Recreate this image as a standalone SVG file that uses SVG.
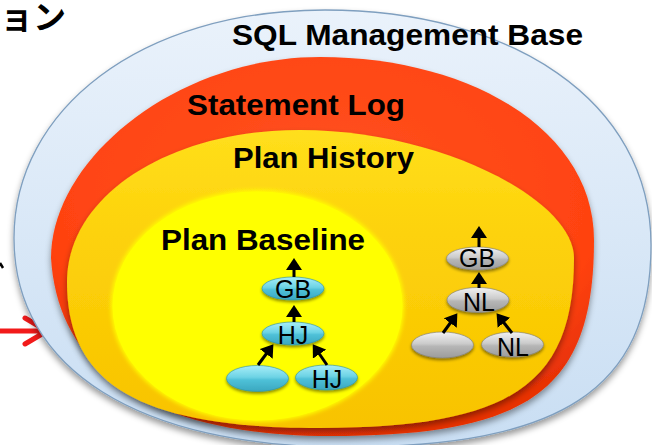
<svg xmlns="http://www.w3.org/2000/svg" width="652" height="445" viewBox="0 0 652 445">
  <defs>
    <style>
      .title { font-family: "Liberation Sans", Arial, sans-serif; font-weight: bold; font-size: 30px; fill: #000; }
      .label { font-family: "Liberation Sans", Arial, sans-serif; font-size: 25px; fill: #000; text-anchor: middle; }
      .jp { font-family: "Noto Sans CJK JP", "Liberation Sans", sans-serif; font-size: 33px; font-weight: bold; fill: #000; }
      .edge { stroke: #000; stroke-width: 3; fill: none; marker-end: url(#head); }
      .cyan { fill: url(#cyanFill); stroke: #2b8ea6; stroke-width: 0.6; filter: url(#nodeShadow); }
      .gray { fill: url(#grayFill); stroke: #7c7c7c; stroke-width: 0.6; filter: url(#nodeShadow); }
    </style>
    <marker id="head" viewBox="0 0 12 16" refX="8" refY="8" markerWidth="12" markerHeight="16" markerUnits="userSpaceOnUse" orient="auto">
      <path d="M0,0 L12,8 L0,16 Z" fill="#000"/>
    </marker>
    <linearGradient id="blueFill" x1="0" y1="0" x2="0" y2="1">
      <stop offset="0" stop-color="#eaf2fb"/>
      <stop offset="1" stop-color="#c9def3"/>
    </linearGradient>
    <radialGradient id="redFill" cx="0.5" cy="0.35" r="0.65">
      <stop offset="0" stop-color="#ff5220"/>
      <stop offset="0.8" stop-color="#ff4210"/>
      <stop offset="1" stop-color="#e83206"/>
    </radialGradient>
    <linearGradient id="orangeFill" x1="0" y1="0" x2="0" y2="1">
      <stop offset="0" stop-color="#ffdf1c"/>
      <stop offset="0.35" stop-color="#fdd20a"/>
      <stop offset="1" stop-color="#f8c300"/>
    </linearGradient>
    <linearGradient id="cyanFill" x1="0" y1="0" x2="0" y2="1">
      <stop offset="0" stop-color="#a8eef8"/>
      <stop offset="0.45" stop-color="#6dd3e5"/>
      <stop offset="0.55" stop-color="#4fc1d8"/>
      <stop offset="1" stop-color="#3aa7bf"/>
    </linearGradient>
    <linearGradient id="grayFill" x1="0" y1="0" x2="0" y2="1">
      <stop offset="0" stop-color="#f2f2f2"/>
      <stop offset="0.45" stop-color="#cbcbcb"/>
      <stop offset="0.55" stop-color="#b6b6b6"/>
      <stop offset="1" stop-color="#9c9c9c"/>
    </linearGradient>
    <filter id="shadow" x="-10%" y="-10%" width="120%" height="125%">
      <feGaussianBlur in="SourceAlpha" stdDeviation="3"/>
      <feOffset dx="0" dy="4" result="b"/>
      <feFlood flood-color="#000" flood-opacity="0.4"/>
      <feComposite in2="b" operator="in" result="s"/>
      <feMerge><feMergeNode in="s"/><feMergeNode in="SourceGraphic"/></feMerge>
    </filter>
    <filter id="soft" x="-5%" y="-5%" width="110%" height="110%">
      <feGaussianBlur stdDeviation="2"/>
    </filter>
    <filter id="nodeShadow" x="-20%" y="-30%" width="140%" height="180%">
      <feGaussianBlur in="SourceAlpha" stdDeviation="1.5"/>
      <feOffset dx="0" dy="2" result="b"/>
      <feFlood flood-color="#000" flood-opacity="0.45"/>
      <feComposite in2="b" operator="in" result="s"/>
      <feMerge><feMergeNode in="s"/><feMergeNode in="SourceGraphic"/></feMerge>
    </filter>
  </defs>

  <rect width="652" height="445" fill="#fff"/>

  <!-- caption fragments at the left edge -->
  <text class="jp" x="0" y="29">ョン</text>
  <line x1="0" y1="263" x2="3" y2="268" stroke="#000" stroke-width="2.5"/>
  <path d="M0,331 L45,331 M25,318 L47,331 L25,344" fill="none" stroke="#f21a1a" stroke-width="5" stroke-linecap="round" stroke-linejoin="round"/>

  <g id="sql-management-base">
    <path d="M14,238 C14,110 140,10 325,10 C510,10 651,100 651,245 C651,390 560,447 345,447 C140,447 14,370 14,238 Z" fill="url(#blueFill)" stroke="#7f9fbf" stroke-width="1.3" filter="url(#shadow)"/>
    <text class="title" x="232" y="45" textLength="351" lengthAdjust="spacingAndGlyphs">SQL Management Base</text>
  </g>

  <g id="statement-log">
    <path d="M51,258 C51,160 175,57 320,57 C470,57 594,130 594,240 C594,390 530,436 330,436 C150,436 58,370 51,258 Z" fill="url(#redFill)" filter="url(#shadow)"/>
    <text class="title" x="187" y="115" textLength="218" lengthAdjust="spacingAndGlyphs">Statement Log</text>
  </g>

  <g id="plan-history">
    <path d="M67,282 C67,195 170,130 300,130 C440,130 574,200 574,258 C574,385 510,428 320,428 C140,428 67,385 67,282 Z" fill="url(#orangeFill)" filter="url(#shadow)"/>
    <text class="title" x="233" y="168" textLength="181" lengthAdjust="spacingAndGlyphs">Plan History</text>
  </g>

  <g id="plan-baseline">
    <ellipse cx="257.5" cy="306" rx="146.5" ry="116" fill="#ffff00" filter="url(#soft)"/>
    <ellipse cx="257.5" cy="306" rx="145" ry="114.5" fill="#ffff00"/>
    <text class="title" x="161" y="250" textLength="204" lengthAdjust="spacingAndGlyphs">Plan Baseline</text>
  </g>

  <!-- accepted plan tree -->
  <g id="base-gb"><ellipse class="cyan" cx="293" cy="288.5" rx="31" ry="11.5"/><text class="label" x="293" y="298">GB</text></g>
  <g id="base-hj-top"><ellipse class="cyan" cx="293" cy="333.5" rx="31" ry="11.5"/><text class="label" x="293" y="344">HJ</text></g>
  <g id="base-scan"><ellipse class="cyan" cx="257.5" cy="378.5" rx="31" ry="13"/></g>
  <g id="base-hj-right"><ellipse class="cyan" cx="326.5" cy="377.5" rx="31" ry="12.5"/><text class="label" x="327" y="388">HJ</text></g>

  <!-- unaccepted plan tree -->
  <g id="hist-gb"><ellipse class="gray" cx="477.5" cy="258.5" rx="31" ry="11.5"/><text class="label" x="477" y="267">GB</text></g>
  <g id="hist-nl-top"><ellipse class="gray" cx="478" cy="300" rx="31" ry="12.5"/><text class="label" x="479" y="311">NL</text></g>
  <g id="hist-scan"><ellipse class="gray" cx="442.5" cy="345" rx="31" ry="13"/></g>
  <g id="hist-nl-right"><ellipse class="gray" cx="512.5" cy="344.5" rx="31" ry="12.5"/><text class="label" x="513" y="356">NL</text></g>

  <g id="connectors">
    <line class="edge" x1="294" y1="277" x2="294" y2="262"/>
    <line class="edge" x1="294" y1="322" x2="294" y2="309"/>
    <line class="edge" x1="258" y1="365" x2="271" y2="347.5"/>
    <line class="edge" x1="327" y1="365" x2="315" y2="347.5"/>
    <line class="edge" x1="479" y1="247" x2="479" y2="230"/>
    <line class="edge" x1="479" y1="288" x2="479" y2="276"/>
    <line class="edge" x1="443" y1="333" x2="455" y2="316.5"/>
    <line class="edge" x1="512" y1="333" x2="499" y2="316.5"/>
  </g>
</svg>
